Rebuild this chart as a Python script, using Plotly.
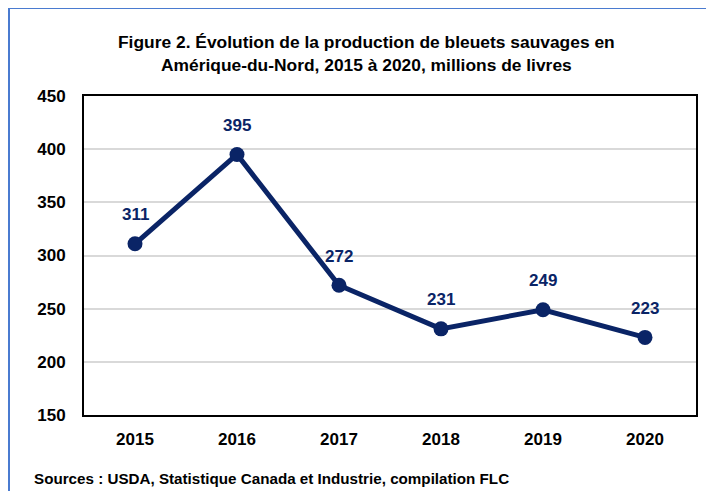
import plotly.graph_objects as go

years = ["2015", "2016", "2017", "2018", "2019", "2020"]
production = [311, 395, 272, 231, 249, 223]
y_ticks = [150, 200, 250, 300, 350, 400, 450]

title_text = ("Figure 2. Évolution de la production de bleuets sauvages en<br>"
              "Amérique-du-Nord, 2015 à 2020, millions de livres")
source_text = "Sources : USDA, Statistique Canada et Industrie, compilation FLC"

FONT = "Liberation Sans, Arial, sans-serif"
NAVY = "#0A2466"

W, H = 714, 491
L, R, T, B = 76, 26, 88, 84
pw, ph = W - L - R, H - T - B

def px_x(p):
    return (p - L) / pw

def px_y(p):
    return (H - B - p) / ph

fig = go.Figure()
fig.add_trace(go.Scatter(
    x=years, y=production, mode="lines+markers",
    line=dict(color=NAVY, width=5),
    marker=dict(color=NAVY, size=15),
    cliponaxis=False,
    hoverinfo="skip",
))

# data labels: on a category axis, annotation x is the category index
annotations = [
    dict(x=i, y=v, xref="x", yref="y", text=str(v), showarrow=False,
         yshift=29, xanchor="center", yanchor="middle",
         font=dict(family=FONT, size=17, color=NAVY, weight="bold"))
    for i, v in enumerate(production)
]
annotations += [
    dict(text=title_text, xref="paper", yref="paper",
         x=px_x(358), y=px_y(46), xanchor="center", yanchor="middle",
         showarrow=False, align="center",
         font=dict(family=FONT, size=17.4, color="black", weight="bold")),
    dict(text=source_text, xref="paper", yref="paper",
         x=px_x(24), y=px_y(470), xanchor="left", yanchor="middle",
         showarrow=False, align="left",
         font=dict(family=FONT, size=15.2, color="black", weight="bold")),
]

fig.update_layout(
    width=W, height=H,
    margin=dict(l=L, r=R, t=T, b=B),
    paper_bgcolor="white", plot_bgcolor="white",
    showlegend=False,
    font=dict(family=FONT, color="black"),
    xaxis=dict(
        type="category", range=[-0.5, 5.5],
        showgrid=False, zeroline=False,
        showline=True, linecolor="black", linewidth=2, mirror=True,
        ticks="outside", ticklen=8, tickcolor="rgba(0,0,0,0)",
        tickfont=dict(family=FONT, size=17, color="black", weight="bold"),
    ),
    yaxis=dict(
        range=[150, 450], tickvals=y_ticks,
        showgrid=True, gridcolor="#D9D9D9", gridwidth=1.5,
        zeroline=False,
        showline=True, linecolor="black", linewidth=2, mirror=True,
        ticks="outside", ticklen=13, tickcolor="rgba(0,0,0,0)",
        tickfont=dict(family=FONT, size=17, color="black", weight="bold"),
    ),
    annotations=annotations,
    shapes=[
        dict(type="rect", xref="paper", yref="paper",
             x0=px_x(1), x1=px_x(713), y0=px_y(0), y1=px_y(490),
             line=dict(color="#4A7BD0", width=2), fillcolor="rgba(0,0,0,0)",
             layer="below"),
    ],
)

fig.write_html("out.html")
